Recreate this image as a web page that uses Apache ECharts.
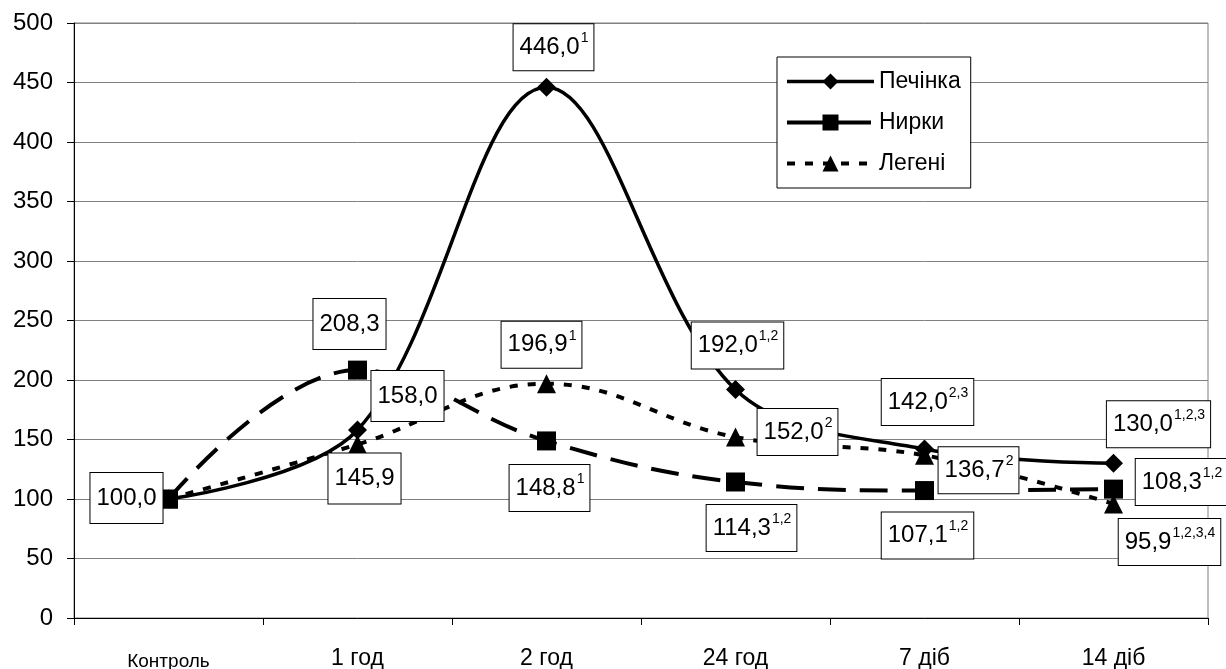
<!DOCTYPE html>
<html>
<head>
<meta charset="utf-8">
<script src="https://cdn.jsdelivr.net/npm/echarts@6/dist/echarts.min.js"></script>
<style>
    html, body { margin: 0; padding: 0; background: #fff; }
    #chart { width: 1226px; height: 669px; }
</style>
</head>
<body>
<div id="chart"></div>
<script>
    // категорії та значення
    const categories = ['Контроль', '1 год', '2 год', '24 год', '7 діб', '14 діб'];
    const yTicks = { min: 0, max: 500, interval: 50 };

    const liver = [100.0, 158.0, 446.0, 192.0, 142.0, 130.0];
    const kidney = [100.0, 208.3, 148.8, 114.3, 107.1, 108.3];
    const lungs = [100.0, 145.9, 196.9, 152.0, 136.7, 95.9];

    // підписи: [число, верхній індекс]
    const liverLabels = [['100,0', ''], ['158,0', ''], ['446,0', '1'], ['192,0', '1,2'], ['142,0', '2,3'], ['130,0', '1,2,3']];
    const kidneyLabels = [null, ['208,3', ''], ['148,8', '1'], ['114,3', '1,2'], ['107,1', '1,2'], ['108,3', '1,2']];
    const lungsLabels = [null, ['145,9', ''], ['196,9', '1'], ['152,0', '2'], ['136,7', '2'], ['95,9', '1,2,3,4']];

    // зсув підписів відносно точки
    const liverOffsets = [[-42, -1], [50, -34], [7, -40], [2, -44], [3, -47], [45, -39]];
    const kidneyOffsets = [null, [-8, -46], [3, 47], [16, 46], [3, 45], [68, -7]];
    const lungsOffsets = [null, [7, 34], [-5, -39], [62, -5], [54, 15], [56, 38]];

    const FONT = "'Liberation Sans', Arial, sans-serif";

    let makeData = (values, labels, offsets) => {
        return values.map((v, i) => {
            let lb = labels[i];
            if (!lb) {
                return { value: v, label: { show: false } };
            }
            let sup = lb[1] !== '';
            return {
                value: v,
                label: {
                    show: true,
                    position: 'inside',
                    offset: offsets[i],
                    formatter: sup ? '{n|' + lb[0] + '}{s|' + lb[1] + '}' : '{n|' + lb[0] + '}',
                    backgroundColor: '#fff',
                    borderColor: '#000',
                    borderWidth: 1,
                    padding: sup ? [10, 5, 10, 6] : [12, 6, 12, 6],
                    rich: {
                        n: { fontSize: 24, lineHeight: 26, color: '#000', fontFamily: FONT },
                        s: { fontSize: 14, lineHeight: 14, color: '#000', fontFamily: FONT, padding: [0, 0, 18, 1] }
                    }
                }
            };
        });
    };

    var myChart = echarts.init(document.getElementById('chart'));
    var option = {
        animation: false,
        backgroundColor: '#fff',
        textStyle: { fontFamily: FONT },
        grid: {
            left: 74,
            right: 18,
            top: 23,
            bottom: 51,
            outerBoundsMode: 'none',
            show: true,
            borderColor: '#808080',
            borderWidth: 1
        },
        legend: {
            left: 777,
            top: 57,
            orient: 'vertical',
            backgroundColor: '#fff',
            borderColor: '#000',
            borderWidth: 1,
            borderRadius: 0,
            padding: [13, 10, 13, 8],
            itemWidth: 87,
            itemHeight: 20,
            itemGap: 18,
            lineStyle: { width: 4 },
            textStyle: { fontSize: 23, color: '#000', fontFamily: FONT },
            data: [
                { name: 'Печінка', lineStyle: { width: 3.5 } },
                { name: 'Нирки', lineStyle: { width: 4, type: [36, 12] } },
                { name: 'Легені', lineStyle: { width: 4 } }
            ]
        },
        xAxis: {
            type: 'category',
            boundaryGap: true,
            data: categories,
            axisLine: { lineStyle: { color: '#000', width: 1 } },
            axisTick: { show: true, length: 7, alignWithLabel: false, lineStyle: { color: '#000' } },
            axisLabel: {
                margin: 29,
                color: '#000',
                fontSize: 23,
                fontFamily: FONT,
                formatter: (v, i) => i === 0 ? '{k|' + v + '}' : v,
                rich: {
                    k: { fontSize: 19, fontFamily: FONT, color: '#000', padding: [5, 0, 0, 0] }
                }
            },
            splitLine: { show: false }
        },
        yAxis: {
            type: 'value',
            min: yTicks.min,
            max: yTicks.max,
            interval: yTicks.interval,
            axisLine: { show: true, lineStyle: { color: '#000', width: 1 } },
            axisTick: { show: true, length: 7, lineStyle: { color: '#000' } },
            axisLabel: { margin: 21, color: '#000', fontSize: 24, fontFamily: FONT },
            splitLine: { show: true, lineStyle: { color: '#808080', width: 1 } }
        },
        series: [
            {
                name: 'Печінка',
                type: 'line',
                smooth: 0.35,
                symbol: 'diamond',
                symbolSize: 19,
                itemStyle: { color: '#000' },
                lineStyle: { color: '#000', width: 3.5, type: 'solid' },
                data: makeData(liver, liverLabels, liverOffsets)
            },
            {
                name: 'Нирки',
                type: 'line',
                smooth: 0.4,
                symbol: 'rect',
                symbolSize: 19,
                itemStyle: { color: '#000' },
                lineStyle: { color: '#000', width: 4, type: [28, 14] },
                data: makeData(kidney, kidneyLabels, kidneyOffsets)
            },
            {
                name: 'Легені',
                type: 'line',
                smooth: 0.4,
                symbol: 'triangle',
                symbolSize: 19,
                itemStyle: { color: '#000' },
                lineStyle: { color: '#000', width: 4, type: [8, 10] },
                data: makeData(lungs, lungsLabels, lungsOffsets)
            }
        ]
    };
    myChart.setOption(option);
</script>
</body>
</html>
